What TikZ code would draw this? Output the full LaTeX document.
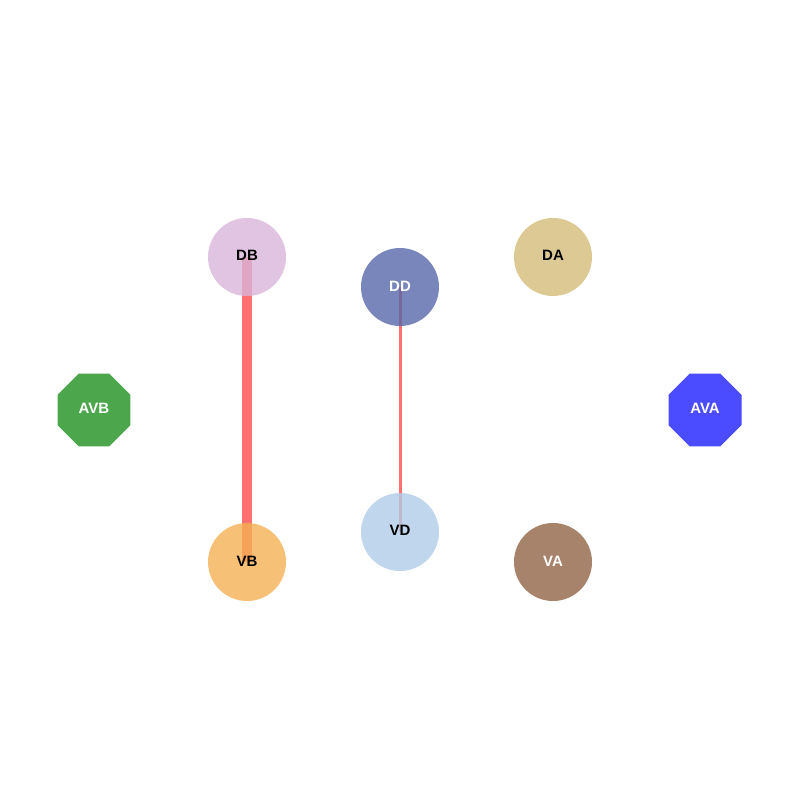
\documentclass[tikz,border=0pt]{standalone}
\usepackage{fontspec}
\setmainfont{Liberation Sans}
\usetikzlibrary{shapes.geometric}
\definecolor{cDB}{RGB}{217,181,217}
\definecolor{cDD}{RGB}{86,104,170}
\definecolor{cDA}{RGB}{212,187,121}
\definecolor{cVB}{RGB}{244,176,85}
\definecolor{cVD}{RGB}{176,204,231}
\definecolor{cVA}{RGB}{144,100,69}
\definecolor{cAVB}{RGB}{76,166,76}
\definecolor{cAVA}{RGB}{75,75,255}
\definecolor{edgered}{RGB}{255,112,112}
\tikzset{
  x=1bp, y=-1bp,
  vnode/.style={circle, minimum size=78bp, inner sep=0pt, fill opacity=0.8, text opacity=1},
  octnode/.style={regular polygon, regular polygon sides=8, minimum size=79bp, inner sep=0pt},
  lbl/.style={font=\fontsize{15bp}{17bp}\selectfont\bfseries},
  thickedge/.style={draw=edgered, line width=10bp},
  thinedge/.style={draw=edgered, line width=3bp},
}
\begin{document}
\begin{tikzpicture}
\useasboundingbox (0,0) rectangle (800,800);
\coordinate (pDB) at (247,257);
\coordinate (pDD) at (400,287);
\coordinate (pDA) at (553,257);
\coordinate (pVB) at (247,562);
\coordinate (pVD) at (400,532);
\coordinate (pVA) at (553,562);
% edges under nodes
\draw[thickedge] (pDB) -- (pVB);
\draw[thinedge] (pDD) -- (pVD);
% nodes
\node[vnode, fill=cDB] (DB) at (pDB) {};
\node[vnode, fill=cDD] (DD) at (pDD) {};
\node[vnode, fill=cDA] (DA) at (pDA) {};
\node[vnode, fill=cVB] (VB) at (pVB) {};
\node[vnode, fill=cVD] (VD) at (pVD) {};
\node[vnode, fill=cVA] (VA) at (pVA) {};
\node[octnode, fill=cAVB] (AVB) at (94,410) {};
\node[octnode, fill=cAVA] (AVA) at (705,410) {};
% labels
\node[lbl, text=black] (tDB) at (247,255) {DB};
\node[lbl, text=white] (tDD) at (400,286) {DD};
\node[lbl, text=black] (tDA) at (553,255) {DA};
\node[lbl, text=black] (tVB) at (247,561) {VB};
\node[lbl, text=black] (tVD) at (400,530) {VD};
\node[lbl, text=white] (tVA) at (553,561) {VA};
\node[lbl, text=white] (tAVB) at (94,408) {AVB};
\node[lbl, text=white] (tAVA) at (705,408) {AVA};
\end{tikzpicture}
\end{document}
